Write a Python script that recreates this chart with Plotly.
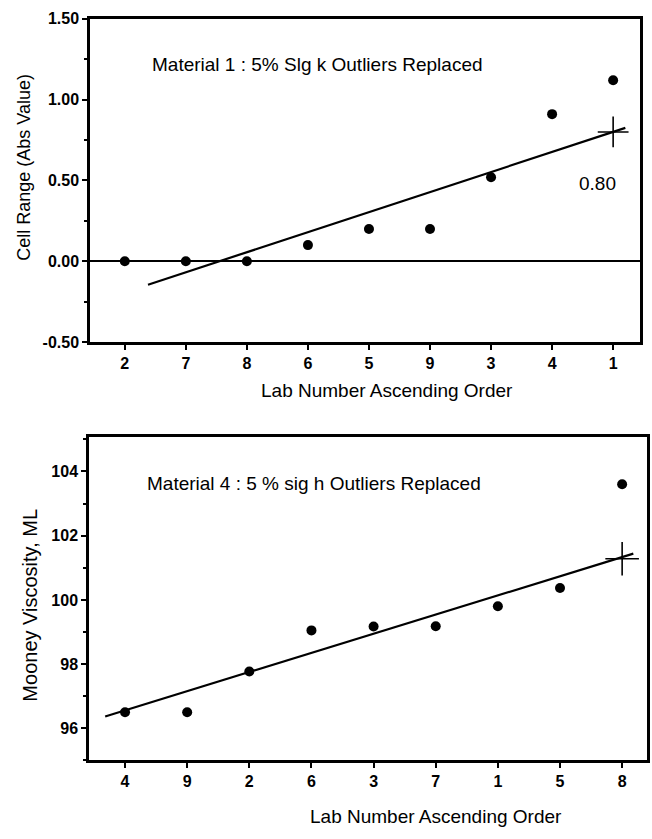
import plotly.graph_objects as go

# ---- data: top panel (Material 1) ----
top_labs = ["2", "7", "8", "6", "5", "9", "3", "4", "1"]
top_vals = [0.0, 0.0, 0.0, 0.10, 0.20, 0.20, 0.52, 0.91, 1.12]
top_fit_x = [1.38, 9.2]
top_fit_y = [-0.145, 0.825]
top_est_x = [9]
top_est_y = [0.80]
top_est_label = "0.80"
top_yticks = [-0.5, 0.0, 0.5, 1.0, 1.5]
top_yticklabels = ["-0.50", "0.00", "0.50", "1.00", "1.50"]

# ---- data: bottom panel (Material 4) ----
bot_labs = ["4", "9", "2", "6", "3", "7", "1", "5", "8"]
bot_vals = [96.5, 96.5, 97.77, 99.05, 99.17, 99.18, 99.8, 100.37, 103.6]
bot_fit_x = [0.68, 9.18]
bot_fit_y = [96.37, 101.44]
bot_est_x = [9]
bot_est_y = [101.28]
bot_yticks = [96, 98, 100, 102, 104]
bot_yticklabels = ["96", "98", "100", "102", "104"]

top_pos = list(range(1, len(top_labs) + 1))
bot_pos = list(range(1, len(bot_labs) + 1))

W, H = 652, 839
FONT = "Arial, Liberation Sans, sans-serif"


def bold(labels):
    return ["<b>%s</b>" % s for s in labels]


fig = go.Figure()

# top panel
fig.add_trace(go.Scatter(x=top_fit_x, y=top_fit_y, mode="lines",
                         line=dict(color="black", width=2.2), xaxis="x", yaxis="y",
                         showlegend=False, hoverinfo="skip"))
fig.add_trace(go.Scatter(x=top_pos, y=top_vals, mode="markers",
                         marker=dict(color="black", size=10), xaxis="x", yaxis="y",
                         showlegend=False))
fig.add_trace(go.Scatter(x=top_est_x, y=top_est_y, mode="markers",
                         marker=dict(symbol="cross-thin", size=22,
                                     line=dict(color="black", width=1.6)),
                         xaxis="x", yaxis="y", showlegend=False))

# bottom panel
fig.add_trace(go.Scatter(x=bot_fit_x, y=bot_fit_y, mode="lines",
                         line=dict(color="black", width=2.2), xaxis="x2", yaxis="y2",
                         showlegend=False, hoverinfo="skip"))
fig.add_trace(go.Scatter(x=bot_pos, y=bot_vals, mode="markers",
                         marker=dict(color="black", size=10), xaxis="x2", yaxis="y2",
                         showlegend=False))
fig.add_trace(go.Scatter(x=bot_est_x, y=bot_est_y, mode="markers",
                         marker=dict(symbol="cross-thin", size=24,
                                     line=dict(color="black", width=1.6)),
                         xaxis="x2", yaxis="y2", showlegend=False))

tickfont = dict(family=FONT, size=16, color="black")
axcommon = dict(showgrid=False, showline=True, linecolor="black", linewidth=2.5,
                mirror=True, ticks="outside", tickcolor="black", tickwidth=1.5,
                tickfont=tickfont)

fig.update_layout(
    width=W, height=H,
    margin=dict(l=0, r=0, t=0, b=0),
    paper_bgcolor="white", plot_bgcolor="white",
    xaxis=dict(domain=[90 / W, 640 / W], range=[0.43, 9.44],
               tickvals=top_pos, ticktext=bold(top_labs), ticklen=5,
               zeroline=False, anchor="y", **axcommon),
    yaxis=dict(domain=[1 - 341 / H, 1 - 11 / H], range=[-0.5, 1.5],
               tickvals=top_yticks, ticktext=bold(top_yticklabels), ticklen=5,
               minor=dict(dtick=0.25, ticks="outside", ticklen=3, tickcolor="black"),
               zeroline=True, zerolinecolor="black", zerolinewidth=1.5,
               anchor="x", **axcommon),
    xaxis2=dict(domain=[89 / W, 647 / W], range=[0.42, 9.4],
                tickvals=bot_pos, ticktext=bold(bot_labs), ticklen=5,
                zeroline=False, anchor="y2", **axcommon),
    yaxis2=dict(domain=[1 - 768 / H, 1 - 438 / H], range=[95, 105.07],
                tickvals=bot_yticks, ticktext=bold(bot_yticklabels), ticklen=5,
                minor=dict(dtick=1, ticks="outside", ticklen=3, tickcolor="black"),
                zeroline=False, anchor="x2", **axcommon),
)

ann_font = dict(family=FONT, size=19, color="black")
fig.add_annotation(x=150 / W, y=1 - 58 / H, xref="paper", yref="paper",
                   text="Material 1 : 5% Slg k Outliers Replaced", showarrow=False,
                   xanchor="left", yanchor="middle", font=ann_font)
fig.add_annotation(x=8.74, y=0.48, xref="x", yref="y", text=top_est_label,
                   showarrow=False, font=ann_font)
fig.add_annotation(x=387 / W, y=1 - 390 / H, xref="paper", yref="paper",
                   text="Lab Number Ascending Order", showarrow=False,
                   xanchor="center", yanchor="middle", font=ann_font)
fig.add_annotation(x=24 / W, y=1 - 163 / H, xref="paper", yref="paper",
                   text="Cell Range (Abs Value)", showarrow=False, textangle=-90,
                   xanchor="center", yanchor="middle",
                   font=dict(family=FONT, size=18, color="black"))
fig.add_annotation(x=145 / W, y=1 - 485 / H, xref="paper", yref="paper",
                   text="Material 4 : 5 % sig h Outliers Replaced", showarrow=False,
                   xanchor="left", yanchor="middle", font=ann_font)
fig.add_annotation(x=436 / W, y=1 - 825 / H, xref="paper", yref="paper",
                   text="Lab Number Ascending Order", showarrow=False,
                   xanchor="center", yanchor="middle", font=ann_font)
fig.add_annotation(x=30 / W, y=1 - 610 / H, xref="paper", yref="paper",
                   text="Mooney Viscosity, ML", showarrow=False, textangle=-90,
                   xanchor="center", yanchor="middle",
                   font=dict(family=FONT, size=20, color="black"))

fig.write_html("out.html")
